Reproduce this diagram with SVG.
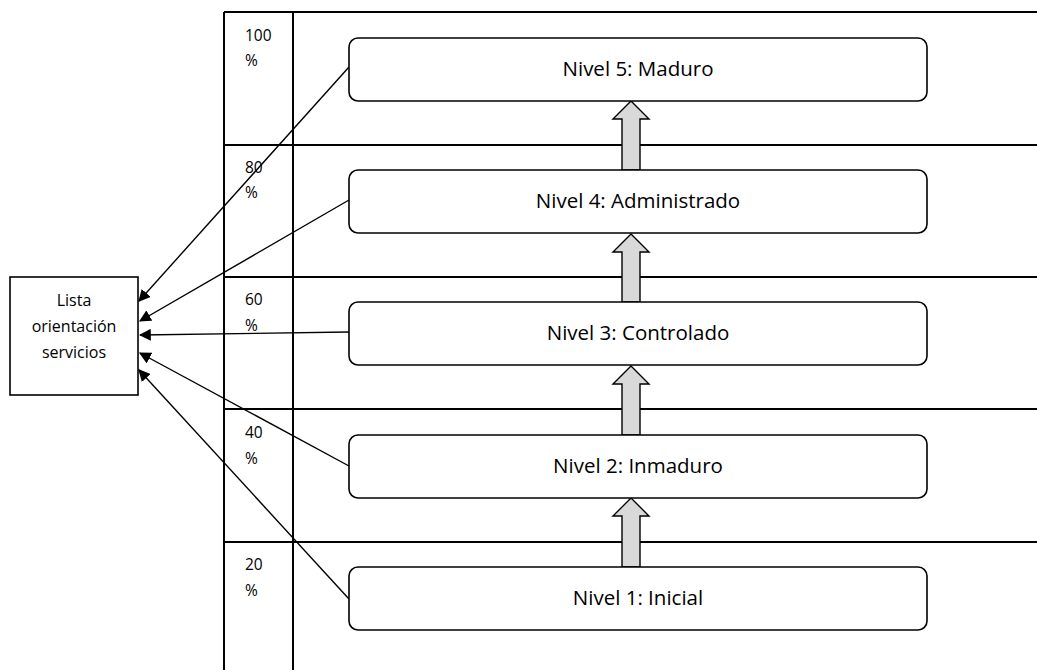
<svg xmlns="http://www.w3.org/2000/svg" width="1037" height="670" viewBox="0 0 1037 670">
<defs>
<style>
.grid{stroke:#000;stroke-width:2;fill:none}
.box{fill:#fff;stroke:#000;stroke-width:1.6}
.lbl{font-family:"Open Sans","Liberation Sans",sans-serif;font-size:20.5px;fill:#000;text-anchor:middle}
.pct{font-family:"Open Sans","Liberation Sans",sans-serif;font-size:15.5px;fill:#000}
.sm{font-family:"Open Sans","Liberation Sans",sans-serif;font-size:16px;fill:#000;text-anchor:middle}
.conn{stroke:#000;stroke-width:1.4;fill:none;marker-end:url(#ah)}
.blk{fill:#d9d9d9;stroke:#000;stroke-width:1.4}
</style>
<marker id="ah" viewBox="0 0 10 10" refX="9" refY="5" markerWidth="12" markerHeight="12" markerUnits="userSpaceOnUse" orient="auto"><path d="M0,0 L10,5 L0,10 z" fill="#000"/></marker>
</defs>
<g id="table">
<line class="grid" x1="224" y1="12" x2="1037" y2="12"/>
<line class="grid" x1="224" y1="145" x2="1037" y2="145"/>
<line class="grid" x1="224" y1="277" x2="1037" y2="277"/>
<line class="grid" x1="224" y1="409" x2="1037" y2="409"/>
<line class="grid" x1="224" y1="542" x2="1037" y2="542"/>
<line class="grid" x1="224" y1="12" x2="224" y2="670"/>
<line class="grid" x1="293" y1="12" x2="293" y2="670"/>
<text class="pct" x="245" y="41">100</text><text class="pct" x="245" y="66">%</text>
<text class="pct" x="245" y="173">80</text><text class="pct" x="245" y="198">%</text>
<text class="pct" x="245" y="305">60</text><text class="pct" x="245" y="331">%</text>
<text class="pct" x="245" y="438">40</text><text class="pct" x="245" y="464">%</text>
<text class="pct" x="245" y="570">20</text><text class="pct" x="245" y="596">%</text>
</g>
<g id="lista">
<rect class="box" x="10" y="277" width="128" height="118"/>
<text class="sm" x="74" y="306">Lista</text>
<text class="sm" x="74" y="332">orientación</text>
<text class="sm" x="74" y="358">servicios</text>
</g>
<g id="connectors">
<path class="blk" d="M622,170 L622,119 L613,119 L631,101 L649,119 L640,119 L640,170 Z"/>
<path class="blk" d="M622,302 L622,252 L613,252 L631,234 L649,252 L640,252 L640,302 Z"/>
<path class="blk" d="M622,435 L622,384 L613,384 L631,366 L649,384 L640,384 L640,435 Z"/>
<path class="blk" d="M622,567 L622,516 L613,516 L631,498 L649,516 L640,516 L640,567 Z"/>
<line class="conn" x1="349" y1="67" x2="139" y2="301"/>
<line class="conn" x1="349" y1="200" x2="140" y2="321"/>
<line class="conn" x1="349" y1="332" x2="140" y2="335"/>
<line class="conn" x1="349" y1="466" x2="140" y2="353"/>
<line class="conn" x1="349" y1="599" x2="139" y2="370"/>
</g>
<g id="n5"><rect class="box" x="349" y="38" width="578" height="63" rx="9"/><text class="lbl" x="638" y="76">Nivel 5: Maduro</text></g>
<g id="n4"><rect class="box" x="349" y="170" width="578" height="63" rx="9"/><text class="lbl" x="638" y="208">Nivel 4: Administrado</text></g>
<g id="n3"><rect class="box" x="349" y="302" width="578" height="63" rx="9"/><text class="lbl" x="638" y="340">Nivel 3: Controlado</text></g>
<g id="n2"><rect class="box" x="349" y="435" width="578" height="63" rx="9"/><text class="lbl" x="638" y="473">Nivel 2: Inmaduro</text></g>
<g id="n1"><rect class="box" x="349" y="567" width="578" height="63" rx="9"/><text class="lbl" x="638" y="605">Nivel 1: Inicial</text></g>
</svg>
